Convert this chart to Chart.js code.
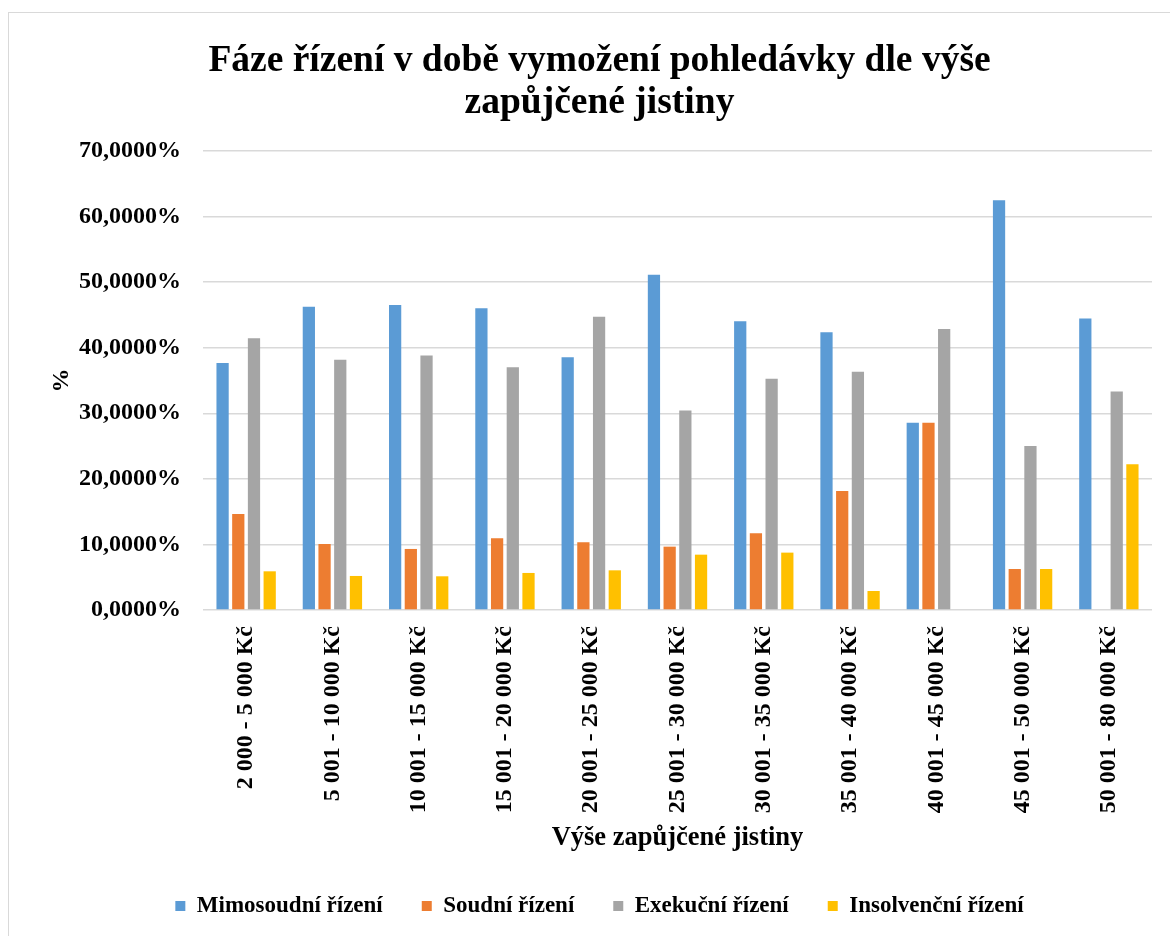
<!DOCTYPE html>
<html>
<head>
<meta charset="utf-8">
<script src="https://cdn.jsdelivr.net/npm/chart.js@4"></script>
<style>
  html, body { margin: 0; padding: 0; background: #ffffff; }
  #wrap { position: relative; width: 1170px; height: 936px; overflow: hidden; }
  #frame { position: absolute; left: 8px; top: 12px; width: 1200px; height: 1000px; border: 1.5px solid #d9d9d9; box-sizing: border-box; }
  canvas { position: absolute; left: 0; top: 0; }
</style>
</head>
<body>
<div id="wrap">
  <div id="frame"></div>
  <canvas id="c" width="1170" height="936"></canvas>
</div>
<script>
const categories = [
  "2 000 - 5 000 Kč", "5 001 - 10 000 Kč", "10 001 - 15 000 Kč", "15 001 - 20 000 Kč",
  "20 001 - 25 000 Kč", "25 001 - 30 000 Kč", "30 001 - 35 000 Kč", "35 001 - 40 000 Kč",
  "40 001 - 45 000 Kč", "45 001 - 50 000 Kč", "50 001 - 80 000 Kč"
];
const mimosoudni  = [37.65, 46.24, 46.50, 46.03, 38.56, 51.12, 44.05, 42.37, 28.57, 62.50, 44.44];
const soudni      = [14.65, 10.07,  9.31, 10.94, 10.33,  9.66, 11.70, 18.16, 28.57,  6.25,  0];
const exekucni    = [41.46, 38.15, 38.81, 37.03, 44.71, 30.42, 35.25, 36.32, 42.86, 25.00, 33.33];
const insolvencni = [ 5.90,  5.19,  5.14,  5.65,  6.05,  8.44,  8.75,  2.90,  0,     6.25, 22.22];
const seriesNames = ["Mimosoudní řízení", "Soudní řízení", "Exekuční řízení", "Insolvenční řízení"];
const yTicks = [0, 10, 20, 30, 40, 50, 60, 70];

const FONT = "'Liberation Serif', 'Times New Roman', serif";
const colors = ["#5B9BD5", "#ED7D31", "#A5A5A5", "#FFC000"];
const seriesData = [mimosoudni, soudni, exekucni, insolvencni];

new Chart(document.getElementById('c'), {
  type: 'bar',
  data: {
    labels: categories,
    datasets: seriesData.map((d, i) => ({
      label: seriesNames[i],
      data: d,
      backgroundColor: colors[i],
      borderWidth: 0,
      barPercentage: 0.78,
      categoryPercentage: 0.728
    }))
  },
  options: {
    responsive: false,
    animation: false,
    devicePixelRatio: 1,
    layout: { padding: { left: 47, right: 18, top: 40, bottom: 8.5 } },
    plugins: {
      title: {
        display: true,
        text: ["Fáze řízení v době vymožení pohledávky dle výše", "zapůjčené jistiny"],
        color: '#000',
        font: { family: FONT, size: 37.5, weight: 'bold', lineHeight: 1.12 },
        padding: { top: 0, bottom: 27 }
      },
      legend: {
        position: 'bottom',
        labels: {
          color: '#000',
          font: { family: FONT, size: 23, weight: 'bold' },
          boxWidth: 10,
          boxHeight: 10,
          padding: 39
        }
      },
      tooltip: { enabled: false }
    },
    scales: {
      x: {
        grid: { display: false, drawTicks: false },
        border: { display: false },
        ticks: {
          color: '#000',
          font: { family: FONT, size: 24, weight: 'bold' },
          minRotation: 90,
          maxRotation: 90,
          autoSkip: false,
          padding: 16
        },
        title: {
          display: true,
          text: "Výše zapůjčené jistiny",
          color: '#000',
          font: { family: FONT, size: 26.5, weight: 'bold', lineHeight: 1.1 },
          padding: { top: 0, bottom: 3 }
        },
        afterFit: (s) => { s.height = 245.5; }
      },
      y: {
        min: 0,
        max: 70,
        afterBuildTicks: (s) => { s.ticks = yTicks.map(v => ({ value: v })); },
        grid: { color: '#d9d9d9', lineWidth: 1.4, drawTicks: false },
        border: { display: false },
        ticks: {
          color: '#000',
          font: { family: FONT, size: 24, weight: 'bold' },
          padding: 22,
          callback: (v) => v.toFixed(4).replace('.', ',') + '%'
        },
        title: {
          display: true,
          text: "%",
          color: '#000',
          font: { family: FONT, size: 24, weight: 'bold' },
          padding: { top: 0, bottom: 0 }
        },
        afterFit: (s) => { s.width = 156; }
      }
    }
  }
});
</script>
</body>
</html>
